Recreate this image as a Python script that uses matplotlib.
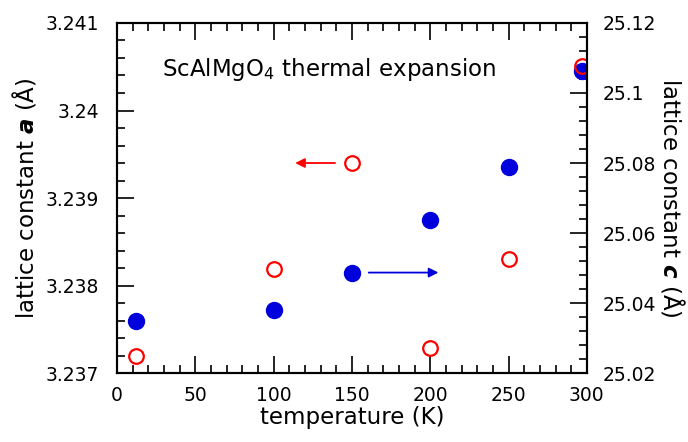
import matplotlib
matplotlib.use('Agg')
import matplotlib.pyplot as plt
from matplotlib.ticker import MultipleLocator

plt.rcParams['font.family'] = ['DejaVu Sans']
plt.rcParams['mathtext.fontset'] = 'dejavusans'

temp_a = [12, 100, 150, 200, 250, 297]
lat_a = [3.23719, 3.23819, 3.2394, 3.23729, 3.2383, 3.24051]
temp_c = [12, 100, 150, 200, 250, 297]
lat_c = [25.035, 25.0381, 25.0487, 25.0636, 25.079, 25.1064]

red = '#ff0000'
blue = '#0000dd'

fig = plt.figure(figsize=(6.88, 4.42), dpi=100)
ax = fig.add_axes([0.170, 0.156, 0.683, 0.792])
ax2 = ax.twinx()

ax2.plot(temp_c, lat_c, 'o', color=blue, markersize=11.5, zorder=3)
ax.plot(temp_a, lat_a, 'o', mfc='none', mec=red, mew=1.6, markersize=10.5, zorder=2)
ax.set_zorder(ax2.get_zorder() + 1)
ax.patch.set_visible(False)

ax.set_xlim(0, 300)
ax.set_ylim(3.237, 3.241)
ax2.set_ylim(25.02, 25.12)

ax.xaxis.set_major_locator(MultipleLocator(50))
ax.xaxis.set_minor_locator(MultipleLocator(10))
ax.yaxis.set_major_locator(MultipleLocator(0.001))
ax.yaxis.set_minor_locator(MultipleLocator(0.0002))
ax2.yaxis.set_major_locator(MultipleLocator(0.02))
ax2.yaxis.set_minor_locator(MultipleLocator(0.004))

ax.yaxis.set_major_formatter(plt.FuncFormatter(lambda v, p: f'{v:.4f}'.rstrip('0')))
ax2.yaxis.set_major_formatter(plt.FuncFormatter(lambda v, p: f'{v:.2f}'.rstrip('0')))

ax.tick_params(which='both', direction='in', top=True, labelsize=13.5, width=1.2)
ax.tick_params(axis='x', pad=9)
ax.tick_params(axis='y', pad=13)
ax.tick_params(which='major', length=12)
ax.tick_params(which='minor', length=6)
ax2.tick_params(which='both', direction='in', labelsize=13.5, width=1.2, pad=11)
ax2.tick_params(which='major', length=12)
ax2.tick_params(which='minor', length=6)
for a in (ax, ax2):
    for s in a.spines.values():
        s.set_linewidth(1.5)

ax.set_xlabel('temperature (K)', fontsize=16.5, labelpad=1)
ax.set_ylabel(r'lattice constant $\boldsymbol{a}$ (Å)', fontsize=16.5, labelpad=5)
ax2.set_ylabel(r'lattice constant $\boldsymbol{c}$ (Å)', fontsize=16.5, rotation=270, labelpad=22)

ax.text(29, 3.24047, r'ScAlMgO$_4$ thermal expansion', fontsize=16.5, va='center')

ax.annotate('', xy=(112, 3.2394), xytext=(141, 3.2394),
            arrowprops=dict(arrowstyle='-|>', color=red, lw=1.3, mutation_scale=14))
ax2.annotate('', xy=(207, 25.0487), xytext=(159, 25.0487),
             arrowprops=dict(arrowstyle='-|>', color=blue, lw=1.3, mutation_scale=14))

fig.savefig('out.png', dpi=100)
